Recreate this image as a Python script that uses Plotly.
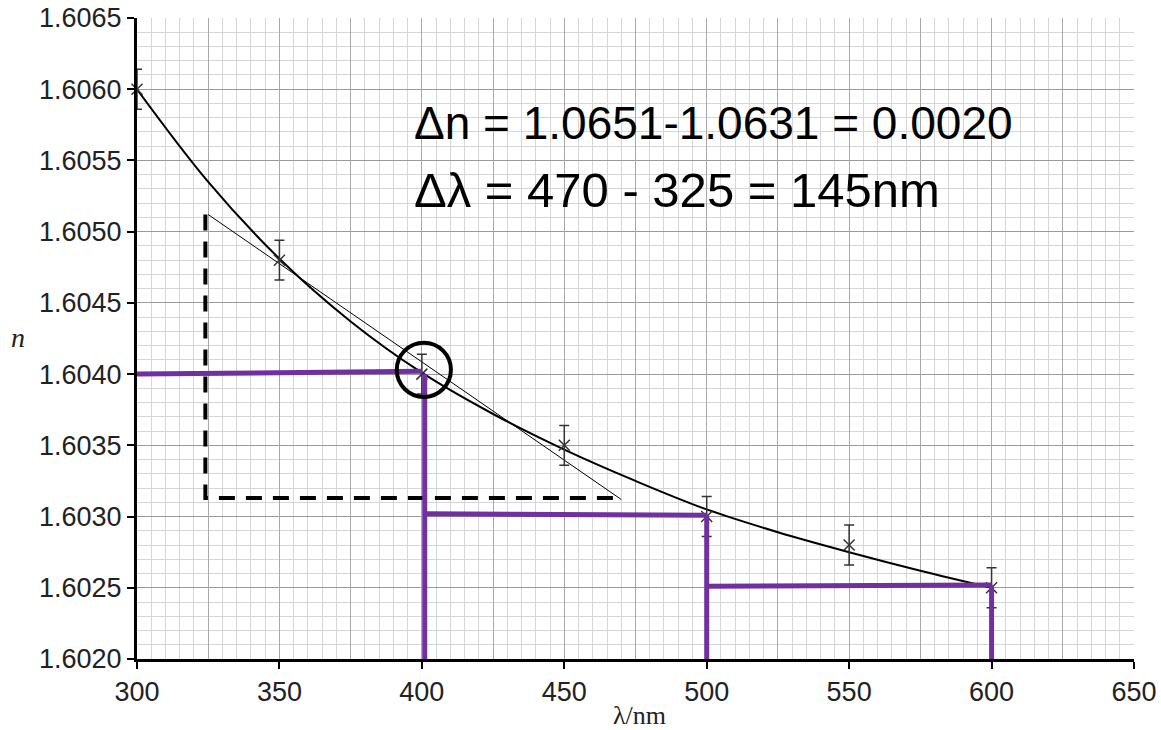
import plotly.graph_objects as go

# ---- data ----
wavelength = [300, 350, 400, 450, 500, 550, 600]
n_values = [1.6060, 1.6048, 1.6040, 1.6035, 1.6030, 1.6028, 1.6025]
n_error = [0.00014] * 7

curve_x = [300, 325, 350, 375, 400, 425, 450, 475, 500, 525, 550, 575, 600]
curve_y = [1.60600, 1.60535, 1.60481, 1.60437, 1.60401, 1.60372, 1.60347, 1.60325, 1.60305, 1.60289, 1.60275, 1.60262, 1.60250]

tangent_x = [325, 470]
tangent_y = [1.60512, 1.60312]

dashed_x = [324, 324, 470]
dashed_y = [1.60512, 1.60313, 1.60313]

purple_segments = [
    ([300, 400], [1.6040, 1.60402]),
    ([401, 401], [1.60400, 1.6020]),
    ([401, 500], [1.60302, 1.60301]),
    ([500, 500], [1.60301, 1.6020]),
    ([500, 600], [1.60251, 1.60252]),
    ([600, 600], [1.60252, 1.6020]),
]

circle_center = (400.7, 1.60403)
circle_radius = (9.5, 0.00019)

x_ticks = [300, 350, 400, 450, 500, 550, 600, 650]
y_ticks = [1.6020, 1.6025, 1.6030, 1.6035, 1.6040, 1.6045, 1.6050, 1.6055, 1.6060, 1.6065]

note_line1 = "Δn = 1.0651-1.0631 = 0.0020"
note_line2 = "Δλ = 470 - 325 = 145nm"

PURPLE = "rgb(112,48,160)"

fig = go.Figure()

# fitted curve
fig.add_trace(go.Scatter(x=curve_x, y=curve_y, mode="lines", line=dict(color="black", width=2, shape="spline"),
                         hoverinfo="skip", showlegend=False))
# tangent
fig.add_trace(go.Scatter(x=tangent_x, y=tangent_y, mode="lines", line=dict(color="black", width=1),
                         hoverinfo="skip", showlegend=False))
# data points with error bars
fig.add_trace(go.Scatter(x=wavelength, y=n_values, mode="markers",
                         marker=dict(symbol="x-thin", size=11, line=dict(color="#333", width=1.5)),
                         error_y=dict(type="data", array=n_error, color="#333", thickness=1.5, width=5),
                         cliponaxis=False, showlegend=False))
# dashed construction lines
fig.add_trace(go.Scatter(x=dashed_x, y=dashed_y, mode="lines",
                         line=dict(color="black", width=4, dash="16px,11px"),
                         hoverinfo="skip", showlegend=False))
# purple lines
for sx, sy in purple_segments:
    fig.add_trace(go.Scatter(x=sx, y=sy, mode="lines", line=dict(color=PURPLE, width=5),
                             cliponaxis=False, hoverinfo="skip", showlegend=False))

# overlay axis for 25 nm gridlines
fig.add_trace(go.Scatter(x=[], y=[], xaxis="x2", showlegend=False, hoverinfo="skip"))

cx, cy = circle_center
rx, ry = circle_radius
fig.add_shape(type="circle", xref="x", yref="y", x0=cx - rx, x1=cx + rx, y0=cy - ry, y1=cy + ry,
              line=dict(color="black", width=4))

tick_font = dict(family="Liberation Sans, Arial, sans-serif", size=27, color="#222")

fig.update_layout(
    width=1161, height=730,
    margin=dict(l=137, r=27, t=18, b=71, autoexpand=False),
    paper_bgcolor="white", plot_bgcolor="white",
    xaxis=dict(range=[300, 650], tickmode="array", tickvals=x_ticks, ticktext=[str(v) for v in x_ticks],
               showgrid=True, gridcolor="#9a9a9a", gridwidth=1, automargin=False, ticklabeloverflow="allow",
               minor=dict(dtick=5, tick0=300, showgrid=True, gridcolor="#d6d6d6", gridwidth=1, ticks=""),
               showline=True, linecolor="black", linewidth=3, ticks="outside", ticklen=7, tickwidth=1.5,
               tickcolor="black", tickfont=tick_font, zeroline=False),
    xaxis2=dict(range=[300, 650], overlaying="x", tick0=300, dtick=25, showgrid=True, gridcolor="#a8a8a8",
                showticklabels=False, ticks="", showline=False, zeroline=False),
    yaxis=dict(range=[1.6020, 1.6065], tickmode="array", tickvals=y_ticks,
               ticktext=[f"{v:.4f}" for v in y_ticks], automargin=False, ticklabeloverflow="allow",
               showgrid=True, gridcolor="#9a9a9a", gridwidth=1,
               minor=dict(dtick=0.0001, tick0=1.6020, showgrid=True, gridcolor="#d6d6d6", gridwidth=1, ticks=""),
               showline=True, linecolor="black", linewidth=3, ticks="outside", ticklen=7, tickwidth=1.5,
               tickcolor="black", tickfont=tick_font, zeroline=False),
    annotations=[
        dict(text="<i>n</i>", xref="paper", yref="paper", x=-0.119, y=0.501, showarrow=False,
             xanchor="center", yanchor="middle",
             font=dict(family="Liberation Serif, Times New Roman, serif", size=28, color="#222")),
        dict(text="λ/nm", xref="paper", yref="paper", x=0.5045, y=-0.088, showarrow=False,
             xanchor="center", yanchor="middle",
             font=dict(family="Liberation Serif, Times New Roman, serif", size=26, color="#222")),
        dict(text=note_line1, xref="paper", yref="paper", x=(412 - 137) / 997, y=(659 - 123) / 641,
             xanchor="left", yanchor="middle", showarrow=False,
             font=dict(family="Liberation Sans, Arial, sans-serif", size=46, color="black")),
        dict(text=note_line2, xref="paper", yref="paper", x=(412 - 137) / 997, y=(659 - 190) / 641,
             xanchor="left", yanchor="middle", showarrow=False,
             font=dict(family="Liberation Sans, Arial, sans-serif", size=49, color="black")),
    ],
)

fig.write_html("out.html", config={"displayModeBar": False},
               post_script="document.body.style.margin='0';")
